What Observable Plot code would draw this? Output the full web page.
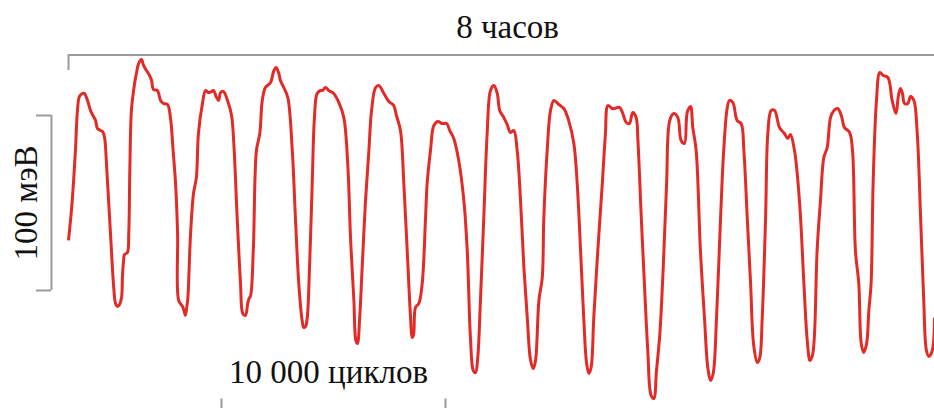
<!DOCTYPE html>
<html>
<head>
<meta charset="utf-8">
<script src="https://cdn.jsdelivr.net/npm/d3@7"></script>
<script src="https://cdn.jsdelivr.net/npm/@observablehq/plot@0.6"></script>
<style>
  html, body { margin: 0; padding: 0; background: #fff; }
  #chart svg { display: block; }
</style>
</head>
<body>
<div id="chart"></div>
<script>
// Trace: x = cycles (thousands), y = voltage (mV, relative)
const cyclesK = [
  0.00,0.13,0.22,0.31,0.40,0.49,0.63,0.71,0.85,0.98,1.12,1.21,1.29,1.43,1.52,1.61,1.70,1.79,1.88,1.96,
  2.03,2.10,2.19,2.28,2.37,2.41,2.46,2.50,2.63,2.69,2.74,2.81,2.95,3.04,3.13,3.26,3.35,3.48,3.57,3.71,
  3.79,3.97,4.11,4.24,4.42,4.55,4.67,4.78,4.87,4.92,5.09,5.18,5.22,5.29,5.33,5.45,5.58,5.71,5.80,5.98,
  6.12,6.25,6.38,6.47,6.61,6.70,6.79,6.92,7.10,7.28,7.38,7.53,7.68,7.78,7.90,8.00,8.06,8.13,8.25,8.39,
  8.54,8.65,8.79,9.02,9.17,9.27,9.39,9.46,9.61,9.79,9.99,10.13,10.28,10.43,10.50,10.58,10.66,10.76,10.88,10.98,
  11.10,11.25,11.34,11.47,11.62,11.84,12.07,12.29,12.47,12.59,12.74,12.83,12.90,13.00,13.11,13.26,13.41,13.53,13.71,13.85,
  14.08,14.30,14.52,14.64,14.82,14.97,15.12,15.27,15.34,15.40,15.49,15.64,15.79,15.94,16.01,16.16,16.31,16.49,16.68,16.88,
  17.02,17.20,17.42,17.65,17.80,17.95,18.07,18.17,18.27,18.39,18.54,18.69,18.84,18.99,19.14,19.25,19.43,19.58,19.73,19.88,
  20.03,20.18,20.33,20.48,20.63,20.75,20.85,21.00,21.15,21.22,21.37,21.52,21.67,21.89,22.11,22.33,22.56,22.71,22.86,23.00,
  23.13,23.23,23.33,23.45,23.63,23.83,23.97,24.08,24.27,24.38,24.60,24.73,24.90,25.04,25.19,25.34,25.42,25.57,25.71,25.86,
  26.01,26.13,26.25,26.40,26.55,26.70,26.84,27.02,27.20,27.35,27.50,27.62,27.77,27.87,28.02,28.21,28.39,28.54,28.66,28.78,
  28.93,29.11,29.25,29.41,29.51,29.66,29.85,30.03,30.15,30.30,30.45,30.59,30.75,30.86,30.97,31.12,31.22,31.37,31.52,31.74,
  31.96,32.11,32.23,32.41,32.54,32.68,32.83,32.98,33.10,33.21,33.30,33.42,33.57,33.72,33.87,34.02,34.17,34.34,34.50,34.64,
  34.87,35.00,35.13,35.28,35.39,35.50,35.63,35.73,35.83,35.92,36.07,36.22,36.37,36.58,36.77,36.94,37.05,37.14,37.23,37.32,
  37.47,37.59,37.74,37.89,38.04,38.18,38.30,38.41,38.56,38.66
];
const voltageMV = [
  28.6,45.7,61.1,80.0,102.9,110.9,112.6,112.6,108.6,102.9,99.4,97.1,92.6,91.4,90.9,87.4,71.4,51.4,31.4,13.1,
  0.0,-7.4,-9.1,-8.0,-4.0,8.6,17.1,20.6,21.7,32.6,70.3,102.9,118.3,124.6,129.7,132.0,128.6,125.7,124.0,120.0,
  114.9,114.3,108.6,106.9,106.3,98.9,80.0,61.1,32.6,-5.7,-9.1,-12.6,-14.3,-8.6,-4.0,32.6,55.4,64.6,89.7,106.9,
  114.3,113.1,113.7,114.3,110.3,108.6,113.1,113.7,108.6,100.0,84.0,41.7,4.0,-13.1,-14.3,-7.4,-4.6,-2.9,22.9,80.0,
  89.7,108.6,116.0,118.9,125.7,127.4,124.0,120.0,116.0,110.3,80.0,41.7,4.0,-17.1,-21.1,-20.6,-15.4,13.1,61.1,98.9,
  112.6,114.3,114.3,116.0,114.3,112.6,107.4,98.9,71.4,30.3,-5.7,-28.6,-30.3,-15.4,13.1,51.4,80.0,102.9,116.0,117.1,
  112.6,108.0,105.7,100.0,91.4,61.1,22.9,-15.4,-26.9,-25.7,-9.7,-7.4,4.0,41.7,61.1,80.0,94.3,96.6,95.4,95.4,
  91.4,86.9,74.3,51.4,22.9,-28.6,-45.7,-46.9,-38.3,-5.7,41.7,89.7,114.3,117.1,112.6,102.9,98.9,94.9,90.3,91.4,
  80.0,51.4,13.1,-15.4,-40.0,-44.6,-40.0,-5.7,7.4,41.7,80.0,102.9,108.6,106.3,104.0,97.1,84.0,61.1,22.9,-15.4,
  -41.7,-47.4,-44.0,-15.4,22.9,61.1,89.7,105.7,104.0,104.0,104.6,101.7,96.0,95.4,101.7,98.9,85.7,41.7,4.0,-34.3,
  -60.0,-61.7,-45.7,-24.6,13.1,61.1,97.1,101.1,98.9,85.7,84.0,101.7,105.1,93.1,80.0,22.9,-15.4,-44.0,-51.4,-47.4,
  -15.4,41.7,80.0,104.6,108.6,107.4,97.1,95.4,80.0,41.7,4.0,-31.4,-41.1,-38.3,-15.4,41.7,89.7,102.9,102.9,93.1,
  89.7,86.9,89.1,80.0,65.7,41.7,4.0,-28.6,-40.0,-37.1,-25.7,22.9,51.4,76.0,81.7,98.9,102.9,104.0,100.0,93.1,
  90.3,80.0,22.9,4.0,-30.3,-35.4,-30.3,-11.4,4.0,61.1,108.6,124.6,122.9,121.7,108.6,101.1,111.4,115.4,112.6,106.9,
  106.9,110.9,108.6,89.7,41.7,-5.7,-34.3,-37.7,-34.3,-15.4
];

// Scale bars and labels
const scaleBarCyclesK = 10;      // 10 000 cycles
const scaleBarMV = 100;          // 100 mV
const labelTime = "8 часов";
const labelCycles = "10 000 циклов";
const labelVoltage = "100 мэВ";

const trace = cyclesK.map((c, i) => ({c, v: voltageMV[i]}));

const red = "#e22b26";
const gray = "#9a9a9a";
const font = "'Liberation Serif', 'Times New Roman', serif";

const barStart = 6.83;

const chart = Plot.plot({
  width: 934,
  height: 408,
  margin: 0,
  x: {domain: [0, 38.66], range: [68, 934], axis: null},
  y: {domain: [0, 100], range: [290, 115], axis: null},
  marks: [
    // top "8 hours" bracket
    Plot.ruleY([134.6], {x1: 0, x2: 40, stroke: gray, strokeWidth: 2}),
    Plot.ruleX([0], {y1: 125.7, y2: 134.6, stroke: gray, strokeWidth: 2}),
    Plot.text([labelTime], {x: 19.6, y: 150.6, text: d => d, fontSize: 33, fontFamily: font, fill: "#111"}),
    // left voltage bar
    Plot.ruleX([-0.76], {y1: 0, y2: scaleBarMV, stroke: gray, strokeWidth: 2}),
    Plot.ruleY([0, scaleBarMV], {x1: -1.43, x2: -0.76, stroke: gray, strokeWidth: 2}),
    Plot.text([labelVoltage], {x: -1.86, y: scaleBarMV / 2, text: d => d, rotate: -90, fontSize: 33, fontFamily: font, fill: "#111"}),
    // bottom cycles bar
    Plot.ruleX([barStart, barStart + scaleBarCyclesK], {y1: -62, y2: -68, stroke: gray, strokeWidth: 2}),
    Plot.text([labelCycles], {x: barStart + scaleBarCyclesK / 2 - 0.22, y: -47.1, text: d => d, fontSize: 33, fontFamily: font, fill: "#111"}),
    // trace
    Plot.line(trace, {x: "c", y: "v", stroke: red, strokeWidth: 3, curve: "catmull-rom", strokeLinejoin: "round", strokeLinecap: "butt"})
  ]
});
document.getElementById("chart").append(chart);
</script>
</body>
</html>
